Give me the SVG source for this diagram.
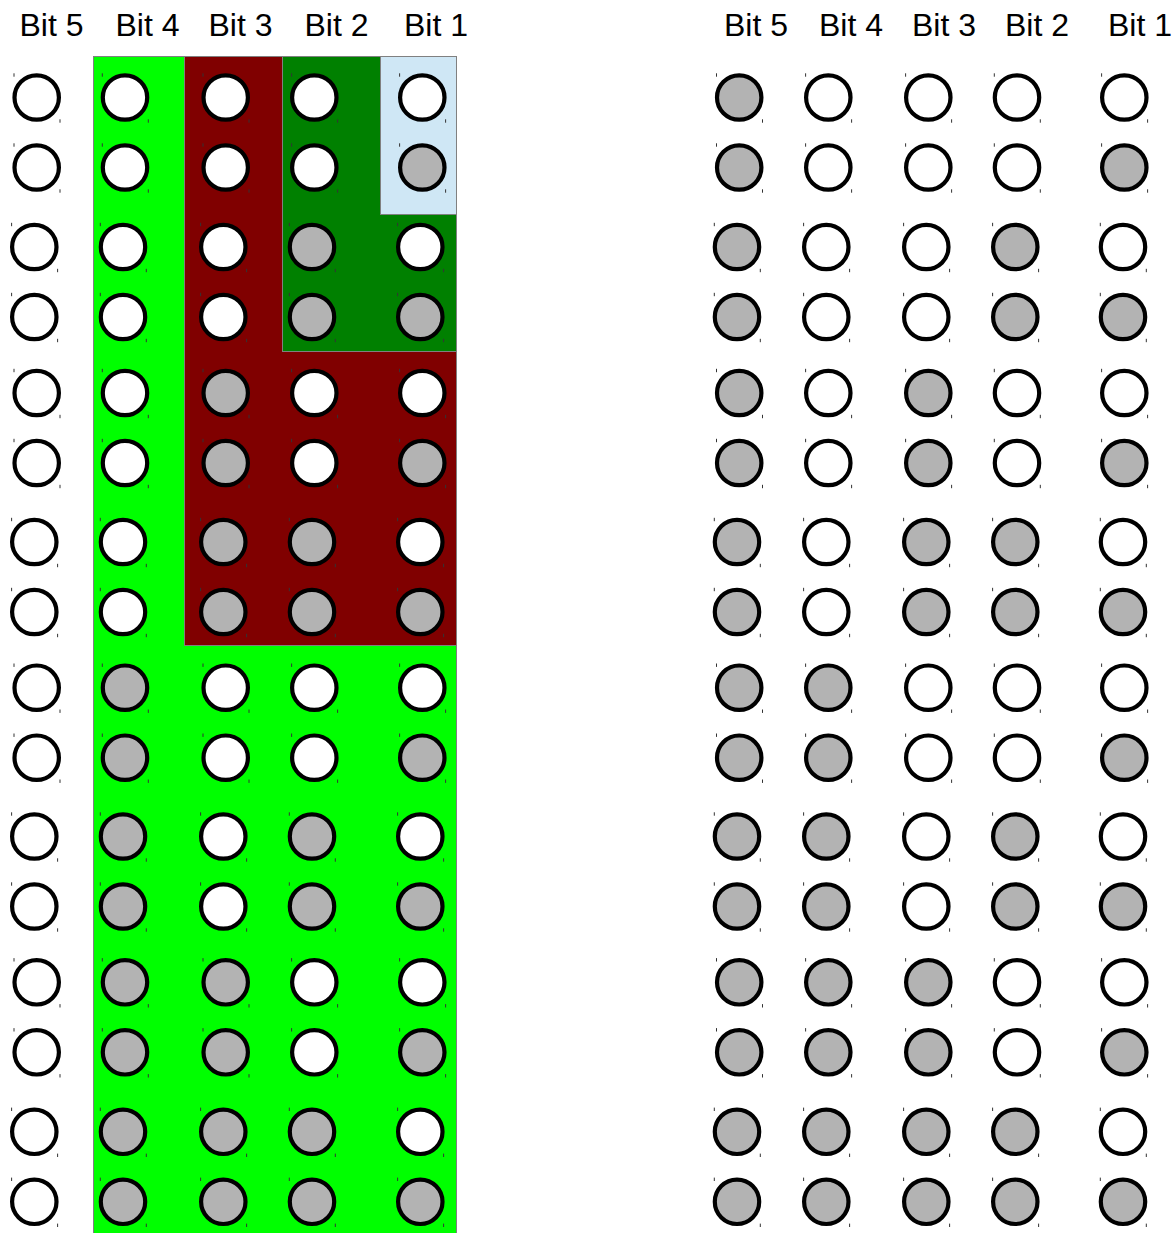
<svg xmlns="http://www.w3.org/2000/svg" xmlns:xlink="http://www.w3.org/1999/xlink" width="1176" height="1233" viewBox="0 0 1176 1233">
<style>
.hd{font-family:"Liberation Sans",Arial,sans-serif;font-size:32px;fill:#000;text-anchor:middle}
.bg{stroke:#808080;stroke-width:1}
circle{stroke:#000;stroke-width:4.2}
.o{fill:#fff}
.g{fill:#b3b3b3}
</style>
<defs>
<g id="tk" fill="#333"><rect x="-23.2" y="-24.2" width="1" height="3.4"/><rect x="22.8" y="21.8" width="1" height="3.4"/></g>
</defs>
<rect width="1176" height="1233" fill="#fff"/>
<g id="regions">
<rect id="reg-bit4" class="bg" x="93.5" y="56.5" width="363" height="1190" fill="#00ff00"/>
<rect id="reg-bit3" class="bg" x="184.5" y="56.5" width="272" height="589" fill="#800000"/>
<rect id="reg-bit2" class="bg" x="282.5" y="56.5" width="174" height="295" fill="#008000"/>
<rect id="reg-bit1" class="bg" x="380.5" y="56.5" width="76" height="158" fill="#cfe7f5"/>
</g>
<g id="headers">
<text class="hd" x="51.5" y="36">Bit 5</text>
<text class="hd" x="147.5" y="36">Bit 4</text>
<text class="hd" x="240.5" y="36">Bit 3</text>
<text class="hd" x="336.5" y="36">Bit 2</text>
<text class="hd" x="436" y="36">Bit 1</text>
<text class="hd" x="756" y="36">Bit 5</text>
<text class="hd" x="851" y="36">Bit 4</text>
<text class="hd" x="944" y="36">Bit 3</text>
<text class="hd" x="1037" y="36">Bit 2</text>
<text class="hd" x="1140" y="36">Bit 1</text>
</g>
<g id="connectors"/>
<g id="left-grid">
<g id="L0-b5" transform="translate(36.7 97.5)"><circle class="o" r="22.2"/><use xlink:href="#tk"/></g>
<g id="L0-b4" transform="translate(125 97.5)"><circle class="o" r="22.2"/><use xlink:href="#tk"/></g>
<g id="L0-b3" transform="translate(225.7 97.5)"><circle class="o" r="22.2"/><use xlink:href="#tk"/></g>
<g id="L0-b2" transform="translate(314.3 97.5)"><circle class="o" r="22.2"/><use xlink:href="#tk"/></g>
<g id="L0-b1" transform="translate(422.3 97.5)"><circle class="o" r="22.2"/><use xlink:href="#tk"/></g>
<g id="L1-b5" transform="translate(36.7 167.5)"><circle class="o" r="22.2"/><use xlink:href="#tk"/></g>
<g id="L1-b4" transform="translate(125 167.5)"><circle class="o" r="22.2"/><use xlink:href="#tk"/></g>
<g id="L1-b3" transform="translate(225.7 167.5)"><circle class="o" r="22.2"/><use xlink:href="#tk"/></g>
<g id="L1-b2" transform="translate(314.3 167.5)"><circle class="o" r="22.2"/><use xlink:href="#tk"/></g>
<g id="L1-b1" transform="translate(422.3 167.5)"><circle class="g" r="22.2"/><use xlink:href="#tk"/></g>
<g id="L2-b5" transform="translate(34.3 247)"><circle class="o" r="22.2"/><use xlink:href="#tk"/></g>
<g id="L2-b4" transform="translate(123 247)"><circle class="o" r="22.2"/><use xlink:href="#tk"/></g>
<g id="L2-b3" transform="translate(223.3 247)"><circle class="o" r="22.2"/><use xlink:href="#tk"/></g>
<g id="L2-b2" transform="translate(312 247)"><circle class="g" r="22.2"/><use xlink:href="#tk"/></g>
<g id="L2-b1" transform="translate(420.3 247)"><circle class="o" r="22.2"/><use xlink:href="#tk"/></g>
<g id="L3-b5" transform="translate(34.3 317)"><circle class="o" r="22.2"/><use xlink:href="#tk"/></g>
<g id="L3-b4" transform="translate(123 317)"><circle class="o" r="22.2"/><use xlink:href="#tk"/></g>
<g id="L3-b3" transform="translate(223.3 317)"><circle class="o" r="22.2"/><use xlink:href="#tk"/></g>
<g id="L3-b2" transform="translate(312 317)"><circle class="g" r="22.2"/><use xlink:href="#tk"/></g>
<g id="L3-b1" transform="translate(420.3 317)"><circle class="g" r="22.2"/><use xlink:href="#tk"/></g>
<g id="L4-b5" transform="translate(36.7 393)"><circle class="o" r="22.2"/><use xlink:href="#tk"/></g>
<g id="L4-b4" transform="translate(125 393)"><circle class="o" r="22.2"/><use xlink:href="#tk"/></g>
<g id="L4-b3" transform="translate(225.7 393)"><circle class="g" r="22.2"/><use xlink:href="#tk"/></g>
<g id="L4-b2" transform="translate(314.3 393)"><circle class="o" r="22.2"/><use xlink:href="#tk"/></g>
<g id="L4-b1" transform="translate(422.3 393)"><circle class="o" r="22.2"/><use xlink:href="#tk"/></g>
<g id="L5-b5" transform="translate(36.7 463)"><circle class="o" r="22.2"/><use xlink:href="#tk"/></g>
<g id="L5-b4" transform="translate(125 463)"><circle class="o" r="22.2"/><use xlink:href="#tk"/></g>
<g id="L5-b3" transform="translate(225.7 463)"><circle class="g" r="22.2"/><use xlink:href="#tk"/></g>
<g id="L5-b2" transform="translate(314.3 463)"><circle class="o" r="22.2"/><use xlink:href="#tk"/></g>
<g id="L5-b1" transform="translate(422.3 463)"><circle class="g" r="22.2"/><use xlink:href="#tk"/></g>
<g id="L6-b5" transform="translate(34.3 542)"><circle class="o" r="22.2"/><use xlink:href="#tk"/></g>
<g id="L6-b4" transform="translate(123 542)"><circle class="o" r="22.2"/><use xlink:href="#tk"/></g>
<g id="L6-b3" transform="translate(223.3 542)"><circle class="g" r="22.2"/><use xlink:href="#tk"/></g>
<g id="L6-b2" transform="translate(312 542)"><circle class="g" r="22.2"/><use xlink:href="#tk"/></g>
<g id="L6-b1" transform="translate(420.3 542)"><circle class="o" r="22.2"/><use xlink:href="#tk"/></g>
<g id="L7-b5" transform="translate(34.3 612)"><circle class="o" r="22.2"/><use xlink:href="#tk"/></g>
<g id="L7-b4" transform="translate(123 612)"><circle class="o" r="22.2"/><use xlink:href="#tk"/></g>
<g id="L7-b3" transform="translate(223.3 612)"><circle class="g" r="22.2"/><use xlink:href="#tk"/></g>
<g id="L7-b2" transform="translate(312 612)"><circle class="g" r="22.2"/><use xlink:href="#tk"/></g>
<g id="L7-b1" transform="translate(420.3 612)"><circle class="g" r="22.2"/><use xlink:href="#tk"/></g>
<g id="L8-b5" transform="translate(36.7 687.7)"><circle class="o" r="22.2"/><use xlink:href="#tk"/></g>
<g id="L8-b4" transform="translate(125 687.7)"><circle class="g" r="22.2"/><use xlink:href="#tk"/></g>
<g id="L8-b3" transform="translate(225.7 687.7)"><circle class="o" r="22.2"/><use xlink:href="#tk"/></g>
<g id="L8-b2" transform="translate(314.3 687.7)"><circle class="o" r="22.2"/><use xlink:href="#tk"/></g>
<g id="L8-b1" transform="translate(422.3 687.7)"><circle class="o" r="22.2"/><use xlink:href="#tk"/></g>
<g id="L9-b5" transform="translate(36.7 757.7)"><circle class="o" r="22.2"/><use xlink:href="#tk"/></g>
<g id="L9-b4" transform="translate(125 757.7)"><circle class="g" r="22.2"/><use xlink:href="#tk"/></g>
<g id="L9-b3" transform="translate(225.7 757.7)"><circle class="o" r="22.2"/><use xlink:href="#tk"/></g>
<g id="L9-b2" transform="translate(314.3 757.7)"><circle class="o" r="22.2"/><use xlink:href="#tk"/></g>
<g id="L9-b1" transform="translate(422.3 757.7)"><circle class="g" r="22.2"/><use xlink:href="#tk"/></g>
<g id="L10-b5" transform="translate(34.3 836.5)"><circle class="o" r="22.2"/><use xlink:href="#tk"/></g>
<g id="L10-b4" transform="translate(123 836.5)"><circle class="g" r="22.2"/><use xlink:href="#tk"/></g>
<g id="L10-b3" transform="translate(223.3 836.5)"><circle class="o" r="22.2"/><use xlink:href="#tk"/></g>
<g id="L10-b2" transform="translate(312 836.5)"><circle class="g" r="22.2"/><use xlink:href="#tk"/></g>
<g id="L10-b1" transform="translate(420.3 836.5)"><circle class="o" r="22.2"/><use xlink:href="#tk"/></g>
<g id="L11-b5" transform="translate(34.3 906.5)"><circle class="o" r="22.2"/><use xlink:href="#tk"/></g>
<g id="L11-b4" transform="translate(123 906.5)"><circle class="g" r="22.2"/><use xlink:href="#tk"/></g>
<g id="L11-b3" transform="translate(223.3 906.5)"><circle class="o" r="22.2"/><use xlink:href="#tk"/></g>
<g id="L11-b2" transform="translate(312 906.5)"><circle class="g" r="22.2"/><use xlink:href="#tk"/></g>
<g id="L11-b1" transform="translate(420.3 906.5)"><circle class="g" r="22.2"/><use xlink:href="#tk"/></g>
<g id="L12-b5" transform="translate(36.7 982.3)"><circle class="o" r="22.2"/><use xlink:href="#tk"/></g>
<g id="L12-b4" transform="translate(125 982.3)"><circle class="g" r="22.2"/><use xlink:href="#tk"/></g>
<g id="L12-b3" transform="translate(225.7 982.3)"><circle class="g" r="22.2"/><use xlink:href="#tk"/></g>
<g id="L12-b2" transform="translate(314.3 982.3)"><circle class="o" r="22.2"/><use xlink:href="#tk"/></g>
<g id="L12-b1" transform="translate(422.3 982.3)"><circle class="o" r="22.2"/><use xlink:href="#tk"/></g>
<g id="L13-b5" transform="translate(36.7 1052.3)"><circle class="o" r="22.2"/><use xlink:href="#tk"/></g>
<g id="L13-b4" transform="translate(125 1052.3)"><circle class="g" r="22.2"/><use xlink:href="#tk"/></g>
<g id="L13-b3" transform="translate(225.7 1052.3)"><circle class="g" r="22.2"/><use xlink:href="#tk"/></g>
<g id="L13-b2" transform="translate(314.3 1052.3)"><circle class="o" r="22.2"/><use xlink:href="#tk"/></g>
<g id="L13-b1" transform="translate(422.3 1052.3)"><circle class="g" r="22.2"/><use xlink:href="#tk"/></g>
<g id="L14-b5" transform="translate(34.3 1131.8)"><circle class="o" r="22.2"/><use xlink:href="#tk"/></g>
<g id="L14-b4" transform="translate(123 1131.8)"><circle class="g" r="22.2"/><use xlink:href="#tk"/></g>
<g id="L14-b3" transform="translate(223.3 1131.8)"><circle class="g" r="22.2"/><use xlink:href="#tk"/></g>
<g id="L14-b2" transform="translate(312 1131.8)"><circle class="g" r="22.2"/><use xlink:href="#tk"/></g>
<g id="L14-b1" transform="translate(420.3 1131.8)"><circle class="o" r="22.2"/><use xlink:href="#tk"/></g>
<g id="L15-b5" transform="translate(34.3 1201.8)"><circle class="o" r="22.2"/><use xlink:href="#tk"/></g>
<g id="L15-b4" transform="translate(123 1201.8)"><circle class="g" r="22.2"/><use xlink:href="#tk"/></g>
<g id="L15-b3" transform="translate(223.3 1201.8)"><circle class="g" r="22.2"/><use xlink:href="#tk"/></g>
<g id="L15-b2" transform="translate(312 1201.8)"><circle class="g" r="22.2"/><use xlink:href="#tk"/></g>
<g id="L15-b1" transform="translate(420.3 1201.8)"><circle class="g" r="22.2"/><use xlink:href="#tk"/></g>
</g>
<g id="right-grid">
<g id="R0-b5" transform="translate(739.2 97.5)"><circle class="g" r="22.2"/><use xlink:href="#tk"/></g>
<g id="R0-b4" transform="translate(828.3 97.5)"><circle class="o" r="22.2"/><use xlink:href="#tk"/></g>
<g id="R0-b3" transform="translate(928.3 97.5)"><circle class="o" r="22.2"/><use xlink:href="#tk"/></g>
<g id="R0-b2" transform="translate(1017 97.5)"><circle class="o" r="22.2"/><use xlink:href="#tk"/></g>
<g id="R0-b1" transform="translate(1124.3 97.5)"><circle class="o" r="22.2"/><use xlink:href="#tk"/></g>
<g id="R1-b5" transform="translate(739.2 167.5)"><circle class="g" r="22.2"/><use xlink:href="#tk"/></g>
<g id="R1-b4" transform="translate(828.3 167.5)"><circle class="o" r="22.2"/><use xlink:href="#tk"/></g>
<g id="R1-b3" transform="translate(928.3 167.5)"><circle class="o" r="22.2"/><use xlink:href="#tk"/></g>
<g id="R1-b2" transform="translate(1017 167.5)"><circle class="o" r="22.2"/><use xlink:href="#tk"/></g>
<g id="R1-b1" transform="translate(1124.3 167.5)"><circle class="g" r="22.2"/><use xlink:href="#tk"/></g>
<g id="R2-b5" transform="translate(737 247)"><circle class="g" r="22.2"/><use xlink:href="#tk"/></g>
<g id="R2-b4" transform="translate(826.3 247)"><circle class="o" r="22.2"/><use xlink:href="#tk"/></g>
<g id="R2-b3" transform="translate(926.3 247)"><circle class="o" r="22.2"/><use xlink:href="#tk"/></g>
<g id="R2-b2" transform="translate(1015.3 247)"><circle class="g" r="22.2"/><use xlink:href="#tk"/></g>
<g id="R2-b1" transform="translate(1123 247)"><circle class="o" r="22.2"/><use xlink:href="#tk"/></g>
<g id="R3-b5" transform="translate(737 317)"><circle class="g" r="22.2"/><use xlink:href="#tk"/></g>
<g id="R3-b4" transform="translate(826.3 317)"><circle class="o" r="22.2"/><use xlink:href="#tk"/></g>
<g id="R3-b3" transform="translate(926.3 317)"><circle class="o" r="22.2"/><use xlink:href="#tk"/></g>
<g id="R3-b2" transform="translate(1015.3 317)"><circle class="g" r="22.2"/><use xlink:href="#tk"/></g>
<g id="R3-b1" transform="translate(1123 317)"><circle class="g" r="22.2"/><use xlink:href="#tk"/></g>
<g id="R4-b5" transform="translate(739.2 393)"><circle class="g" r="22.2"/><use xlink:href="#tk"/></g>
<g id="R4-b4" transform="translate(828.3 393)"><circle class="o" r="22.2"/><use xlink:href="#tk"/></g>
<g id="R4-b3" transform="translate(928.3 393)"><circle class="g" r="22.2"/><use xlink:href="#tk"/></g>
<g id="R4-b2" transform="translate(1017 393)"><circle class="o" r="22.2"/><use xlink:href="#tk"/></g>
<g id="R4-b1" transform="translate(1124.3 393)"><circle class="o" r="22.2"/><use xlink:href="#tk"/></g>
<g id="R5-b5" transform="translate(739.2 463)"><circle class="g" r="22.2"/><use xlink:href="#tk"/></g>
<g id="R5-b4" transform="translate(828.3 463)"><circle class="o" r="22.2"/><use xlink:href="#tk"/></g>
<g id="R5-b3" transform="translate(928.3 463)"><circle class="g" r="22.2"/><use xlink:href="#tk"/></g>
<g id="R5-b2" transform="translate(1017 463)"><circle class="o" r="22.2"/><use xlink:href="#tk"/></g>
<g id="R5-b1" transform="translate(1124.3 463)"><circle class="g" r="22.2"/><use xlink:href="#tk"/></g>
<g id="R6-b5" transform="translate(737 542)"><circle class="g" r="22.2"/><use xlink:href="#tk"/></g>
<g id="R6-b4" transform="translate(826.3 542)"><circle class="o" r="22.2"/><use xlink:href="#tk"/></g>
<g id="R6-b3" transform="translate(926.3 542)"><circle class="g" r="22.2"/><use xlink:href="#tk"/></g>
<g id="R6-b2" transform="translate(1015.3 542)"><circle class="g" r="22.2"/><use xlink:href="#tk"/></g>
<g id="R6-b1" transform="translate(1123 542)"><circle class="o" r="22.2"/><use xlink:href="#tk"/></g>
<g id="R7-b5" transform="translate(737 612)"><circle class="g" r="22.2"/><use xlink:href="#tk"/></g>
<g id="R7-b4" transform="translate(826.3 612)"><circle class="o" r="22.2"/><use xlink:href="#tk"/></g>
<g id="R7-b3" transform="translate(926.3 612)"><circle class="g" r="22.2"/><use xlink:href="#tk"/></g>
<g id="R7-b2" transform="translate(1015.3 612)"><circle class="g" r="22.2"/><use xlink:href="#tk"/></g>
<g id="R7-b1" transform="translate(1123 612)"><circle class="g" r="22.2"/><use xlink:href="#tk"/></g>
<g id="R8-b5" transform="translate(739.2 687.7)"><circle class="g" r="22.2"/><use xlink:href="#tk"/></g>
<g id="R8-b4" transform="translate(828.3 687.7)"><circle class="g" r="22.2"/><use xlink:href="#tk"/></g>
<g id="R8-b3" transform="translate(928.3 687.7)"><circle class="o" r="22.2"/><use xlink:href="#tk"/></g>
<g id="R8-b2" transform="translate(1017 687.7)"><circle class="o" r="22.2"/><use xlink:href="#tk"/></g>
<g id="R8-b1" transform="translate(1124.3 687.7)"><circle class="o" r="22.2"/><use xlink:href="#tk"/></g>
<g id="R9-b5" transform="translate(739.2 757.7)"><circle class="g" r="22.2"/><use xlink:href="#tk"/></g>
<g id="R9-b4" transform="translate(828.3 757.7)"><circle class="g" r="22.2"/><use xlink:href="#tk"/></g>
<g id="R9-b3" transform="translate(928.3 757.7)"><circle class="o" r="22.2"/><use xlink:href="#tk"/></g>
<g id="R9-b2" transform="translate(1017 757.7)"><circle class="o" r="22.2"/><use xlink:href="#tk"/></g>
<g id="R9-b1" transform="translate(1124.3 757.7)"><circle class="g" r="22.2"/><use xlink:href="#tk"/></g>
<g id="R10-b5" transform="translate(737 836.5)"><circle class="g" r="22.2"/><use xlink:href="#tk"/></g>
<g id="R10-b4" transform="translate(826.3 836.5)"><circle class="g" r="22.2"/><use xlink:href="#tk"/></g>
<g id="R10-b3" transform="translate(926.3 836.5)"><circle class="o" r="22.2"/><use xlink:href="#tk"/></g>
<g id="R10-b2" transform="translate(1015.3 836.5)"><circle class="g" r="22.2"/><use xlink:href="#tk"/></g>
<g id="R10-b1" transform="translate(1123 836.5)"><circle class="o" r="22.2"/><use xlink:href="#tk"/></g>
<g id="R11-b5" transform="translate(737 906.5)"><circle class="g" r="22.2"/><use xlink:href="#tk"/></g>
<g id="R11-b4" transform="translate(826.3 906.5)"><circle class="g" r="22.2"/><use xlink:href="#tk"/></g>
<g id="R11-b3" transform="translate(926.3 906.5)"><circle class="o" r="22.2"/><use xlink:href="#tk"/></g>
<g id="R11-b2" transform="translate(1015.3 906.5)"><circle class="g" r="22.2"/><use xlink:href="#tk"/></g>
<g id="R11-b1" transform="translate(1123 906.5)"><circle class="g" r="22.2"/><use xlink:href="#tk"/></g>
<g id="R12-b5" transform="translate(739.2 982.3)"><circle class="g" r="22.2"/><use xlink:href="#tk"/></g>
<g id="R12-b4" transform="translate(828.3 982.3)"><circle class="g" r="22.2"/><use xlink:href="#tk"/></g>
<g id="R12-b3" transform="translate(928.3 982.3)"><circle class="g" r="22.2"/><use xlink:href="#tk"/></g>
<g id="R12-b2" transform="translate(1017 982.3)"><circle class="o" r="22.2"/><use xlink:href="#tk"/></g>
<g id="R12-b1" transform="translate(1124.3 982.3)"><circle class="o" r="22.2"/><use xlink:href="#tk"/></g>
<g id="R13-b5" transform="translate(739.2 1052.3)"><circle class="g" r="22.2"/><use xlink:href="#tk"/></g>
<g id="R13-b4" transform="translate(828.3 1052.3)"><circle class="g" r="22.2"/><use xlink:href="#tk"/></g>
<g id="R13-b3" transform="translate(928.3 1052.3)"><circle class="g" r="22.2"/><use xlink:href="#tk"/></g>
<g id="R13-b2" transform="translate(1017 1052.3)"><circle class="o" r="22.2"/><use xlink:href="#tk"/></g>
<g id="R13-b1" transform="translate(1124.3 1052.3)"><circle class="g" r="22.2"/><use xlink:href="#tk"/></g>
<g id="R14-b5" transform="translate(737 1131.8)"><circle class="g" r="22.2"/><use xlink:href="#tk"/></g>
<g id="R14-b4" transform="translate(826.3 1131.8)"><circle class="g" r="22.2"/><use xlink:href="#tk"/></g>
<g id="R14-b3" transform="translate(926.3 1131.8)"><circle class="g" r="22.2"/><use xlink:href="#tk"/></g>
<g id="R14-b2" transform="translate(1015.3 1131.8)"><circle class="g" r="22.2"/><use xlink:href="#tk"/></g>
<g id="R14-b1" transform="translate(1123 1131.8)"><circle class="o" r="22.2"/><use xlink:href="#tk"/></g>
<g id="R15-b5" transform="translate(737 1201.8)"><circle class="g" r="22.2"/><use xlink:href="#tk"/></g>
<g id="R15-b4" transform="translate(826.3 1201.8)"><circle class="g" r="22.2"/><use xlink:href="#tk"/></g>
<g id="R15-b3" transform="translate(926.3 1201.8)"><circle class="g" r="22.2"/><use xlink:href="#tk"/></g>
<g id="R15-b2" transform="translate(1015.3 1201.8)"><circle class="g" r="22.2"/><use xlink:href="#tk"/></g>
<g id="R15-b1" transform="translate(1123 1201.8)"><circle class="g" r="22.2"/><use xlink:href="#tk"/></g>
</g>
</svg>
